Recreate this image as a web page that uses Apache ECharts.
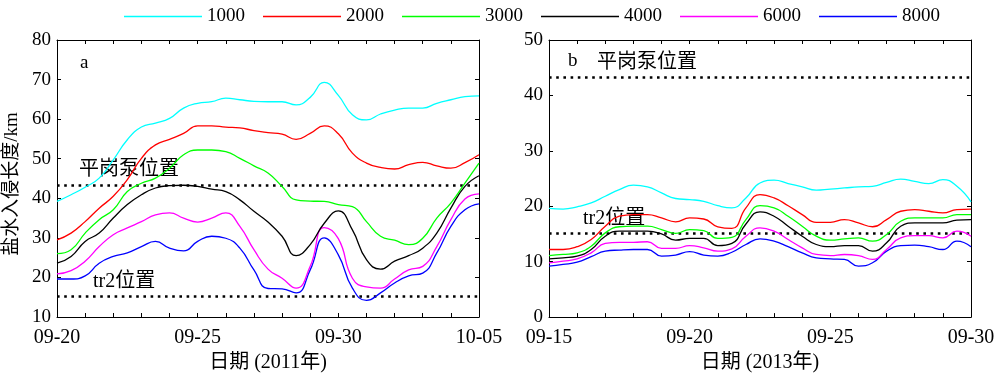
<!DOCTYPE html>
<html><head><meta charset="utf-8">
<script src="https://cdn.jsdelivr.net/npm/echarts@6/dist/echarts.min.js"></script>
<style>html,body{margin:0;padding:0;background:#fff}#c{width:1000px;height:378px}</style>
</head><body><div id="c"></div>
<script>
// ---- data (half-day steps) ----
const seriesNames = ['1000','2000','3000','4000','6000','8000'];
const colors = ['#00FFFF','#FF0000','#00FF00','#000000','#FF00FF','#0000FF'];
const xTicksA = ['09-20','09-25','09-30','10-05'];
const xTicksB = ['09-15','09-20','09-25','09-30'];
const stepDays = 0.5;
const pumpPos = 43.2;   // 平岗泵位置
const tr2Pos = 15.2;    // tr2位置

const a1000 = [39.2,40.9,42.8,45.1,49.7,54.8,58.0,59.0,60.2,62.8,64.0,64.4,65.3,64.9,64.5,64.4,64.4,63.6,65.5,69.3,66.0,61.1,59.8,61.3,62.3,62.8,62.8,64.0,64.9,65.7,65.9];
const a2000 = [29.5,31.2,34.1,37.5,40.5,44.7,50.1,53.5,54.9,56.4,58.3,58.3,58.0,57.8,57.1,56.6,56.2,54.9,56.4,58.3,56.3,51.4,48.9,47.8,47.4,48.5,49.1,48.2,47.6,49.0,51.0];
const a3000 = [26.0,27.0,31.2,34.6,37.1,41.7,43.8,45.1,47.6,51.0,52.2,52.2,51.8,50.1,48.2,46.4,43.0,39.6,39.3,39.2,38.4,37.9,34.1,30.4,29.4,28.3,29.9,35.0,38.8,43.8,48.9];
const a4000 = [23.6,25.3,29.1,31.2,35.0,38.4,40.9,42.6,43.2,43.3,43.0,42.3,41.7,39.6,36.7,34.0,30.4,25.5,28.3,33.7,36.8,32.0,24.5,22.1,24.1,25.5,27.4,31.2,37.5,43.0,45.7];
const a6000 = [20.9,21.7,24.1,27.8,30.8,32.5,34.1,35.8,36.3,35.0,34.0,35.0,36.3,32.9,27.0,22.1,19.8,17.3,22.8,32.6,29.8,19.8,17.6,17.3,19.6,21.9,22.8,27.8,34.6,39.8,41.1];
const a8000 = [19.6,19.6,20.4,23.6,25.3,26.2,27.8,29.1,27.4,26.7,29.1,30.4,29.9,27.4,21.9,17.2,17.1,16.1,21.9,30.0,25.7,17.3,14.2,16.1,18.6,20.4,21.1,26.2,32.9,37.1,38.6];

const b1000 = [19.6,19.5,19.9,20.6,21.8,23.0,23.8,23.5,22.4,21.4,21.2,20.9,20.1,19.7,21.5,24.2,24.7,24.1,23.5,22.9,23.1,23.3,23.5,23.6,24.3,24.9,24.5,24.1,24.8,23.6,20.8];
const b2000 = [12.2,12.2,12.7,14.0,16.4,18.2,18.5,18.5,17.9,17.2,17.9,17.7,16.3,16.0,19.7,22.1,21.5,20.1,18.5,17.1,17.1,17.6,17.0,16.3,17.6,19.1,19.4,19.1,18.8,19.4,19.5];
const b3000 = [11.1,11.3,11.6,12.8,15.2,16.3,16.4,16.4,15.8,15.1,15.8,15.6,14.2,14.4,17.6,20.1,19.7,18.2,16.4,14.6,13.9,14.1,14.3,13.7,14.9,17.3,17.9,17.9,17.9,18.5,18.5];
const b4000 = [10.5,10.7,11.0,12.2,14.6,15.5,15.5,15.5,15.0,13.9,14.2,14.2,12.9,13.3,16.8,19.0,18.2,16.4,14.6,13.1,12.7,12.9,12.9,11.9,13.4,16.4,17.0,17.0,17.0,17.5,17.6];
const b6000 = [9.8,10.1,10.5,11.6,13.3,13.5,13.5,13.6,12.4,12.4,12.9,12.5,11.9,12.3,14.6,16.1,15.5,14.0,12.5,11.3,11.1,11.3,11.1,10.4,12.2,14.3,14.7,14.7,14.3,15.5,14.6];
const b8000 = [9.2,9.5,9.9,10.9,11.9,12.1,12.2,12.2,11.0,11.2,11.8,11.2,11.0,11.7,13.1,14.1,13.7,12.7,11.6,10.7,10.5,10.4,9.2,9.8,11.9,12.9,13.0,12.7,12.2,13.7,12.7];

const dataA = [a1000,a2000,a3000,a4000,a6000,a8000];
const dataB = [b1000,b2000,b3000,b4000,b6000,b8000];

// ---- chart ----
const serif = '"Liberation Serif", "Times New Roman", "Noto Sans CJK SC", serif';
const cjk = '"Liberation Serif", "Noto Sans CJK SC", serif';
const chart = echarts.init(document.getElementById('c'), null, {renderer:'canvas'});

function toXY(arr){ return arr.map((v,i)=>[i*stepDays, v]); }
function xAxisDef(grid, pos, labels, name){
  return {
    type:'value', gridIndex:grid, position:pos, min:0, max:15, interval:1,
    axisLine:{show:true, onZero:false, lineStyle:{color:'#000', width:1}},
    axisTick:{show:true, inside:true, length:4, lineStyle:{color:'#000'}},
    axisLabel:{show: pos==='bottom', margin:11, color:'#000', fontSize:20, fontFamily:serif,
      formatter:v => (v%5===0 ? labels[v/5] : '')},
    splitLine:{show:false},
    name: name || '', nameLocation:'middle', nameGap:35,
    nameTextStyle:{color:'#000', fontSize:20, fontFamily:cjk}
  };
}
function yAxisDef(grid, pos, min, max){
  return {
    type:'value', gridIndex:grid, position:pos, min:min, max:max, interval:10,
    axisLine:{show:true, onZero:false, lineStyle:{color:'#000', width:1}},
    axisTick:{show:true, inside:true, length:4, lineStyle:{color:'#000'}},
    axisLabel:{show: pos==='left', margin:6, color:'#000', fontSize:19, fontFamily:serif},
    splitLine:{show:false}
  };
}
const refLines = {
  silent:true, symbol:'none', label:{show:false},
  lineStyle:{color:'#000', width:2.6, type:[2.6,4.6], cap:'butt'},
  data:[{yAxis:pumpPos},{yAxis:tr2Pos}]
};
const series = [];
seriesNames.forEach((n,i)=>{
  series.push({name:n, type:'line', xAxisIndex:0, yAxisIndex:0, data:toXY(dataA[i]),
    smooth:0.5, showSymbol:false, symbol:'none', color:colors[i], lineStyle:{width:1.3, color:colors[i]},
    markLine: i===0 ? refLines : undefined, z: 10-i});
});
seriesNames.forEach((n,i)=>{
  series.push({name:n, type:'line', xAxisIndex:2, yAxisIndex:2, data:toXY(dataB[i]),
    smooth:0.5, showSymbol:false, symbol:'none', color:colors[i], lineStyle:{width:1.3, color:colors[i]},
    markLine: i===0 ? refLines : undefined, z: 10-i});
});

const txt = (x,y,t,size,ff) => ({type:'text', left:x, top:y, silent:true,
  style:{text:t, fill:'#000', font: size+'px '+ff, textVerticalAlign:'middle'}});

chart.setOption({
  animation:false,
  backgroundColor:'#fff',
  legend:{show:true, data:seriesNames, left:119, top:2, icon:'rect', itemWidth:78, itemHeight:1.5,
    itemGap:18, textStyle:{color:'#000', fontSize:19, fontFamily:serif}},
  grid:[
    {left:57, top:40, width:422, height:277, containLabel:false},
    {left:549, top:40, width:422, height:278, containLabel:false}
  ],
  xAxis:[
    xAxisDef(0,'bottom',xTicksA,'日期 (2011年)'),
    xAxisDef(0,'top',xTicksA),
    xAxisDef(1,'bottom',xTicksB,'日期 (2013年)'),
    xAxisDef(1,'top',xTicksB)
  ],
  yAxis:[
    yAxisDef(0,'left',10,80),
    yAxisDef(0,'right',10,80),
    yAxisDef(1,'left',0,50),
    yAxisDef(1,'right',0,50)
  ],
  series: series,
  graphic:[
    {type:'text', x:12, y:184, rotation:Math.PI/2, silent:true,
      style:{text:'盐水入侵长度/km', fill:'#000', font:'19px '+cjk, align:'center', verticalAlign:'middle'}},
    txt(80,54,'a',19,serif),
    txt(79,160,'平岗泵位置',20,cjk),
    txt(93,272,'tr2位置',20,cjk),
    txt(568,52,'b',19,serif),
    txt(597,53,'平岗泵位置',20,cjk),
    txt(583,209,'tr2位置',20,cjk)
  ]
});
</script></body></html>
